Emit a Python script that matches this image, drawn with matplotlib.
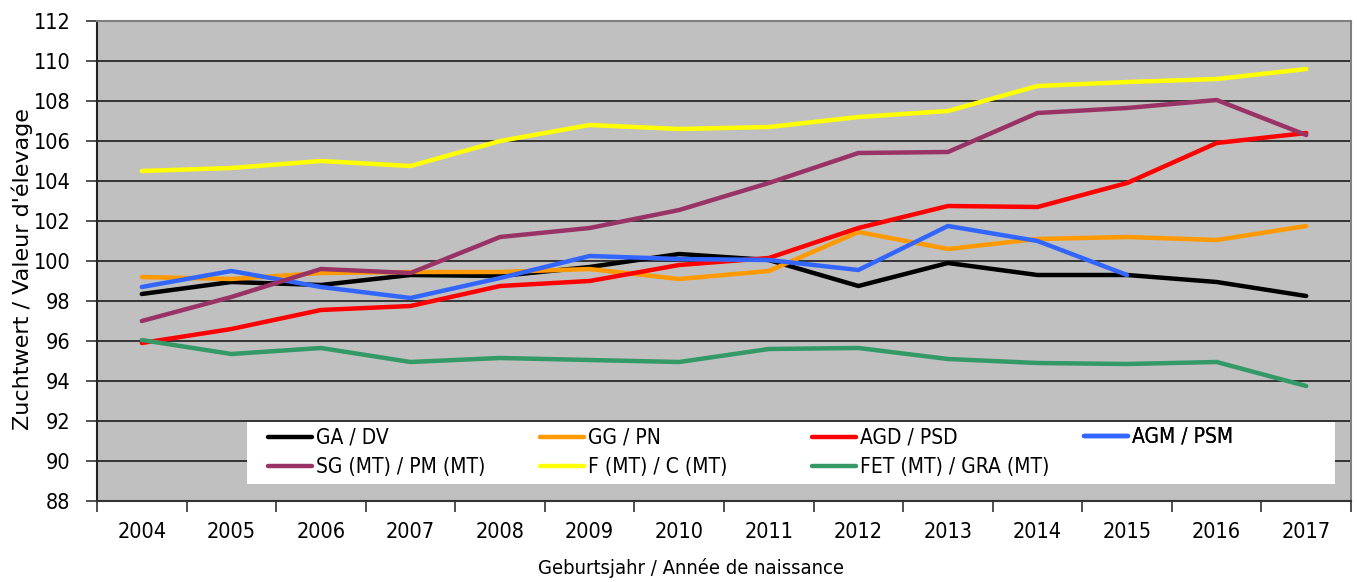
import matplotlib
matplotlib.use("Agg")
import matplotlib.pyplot as plt
from matplotlib.patches import Rectangle
import numpy as np

years = ["2004", "2005", "2006", "2007", "2008", "2009", "2010",
         "2011", "2012", "2013", "2014", "2015", "2016", "2017"]

ga_dv = [98.35, 98.95, 98.8, 99.3, 99.25, 99.7, 100.35, 100.05, 98.75, 99.9, 99.3, 99.3, 98.95, 98.25]
gg_pn = [99.2, 99.1, 99.4, 99.45, 99.45, 99.6, 99.1, 99.5, 101.45, 100.6, 101.1, 101.2, 101.05, 101.75]
agd_psd = [95.9, 96.6, 97.55, 97.75, 98.75, 99.0, 99.8, 100.15, 101.65, 102.75, 102.7, 103.9, 105.9, 106.4]
agm_psm = [98.7, 99.5, 98.7, 98.15, 99.15, 100.25, 100.1, 100.05, 99.55, 101.75, 101.0, 99.3, np.nan, np.nan]
sg_pm = [97.0, 98.2, 99.6, 99.4, 101.2, 101.65, 102.55, 103.9, 105.4, 105.45, 107.4, 107.65, 108.05, 106.3]
f_c = [104.5, 104.65, 105.0, 104.75, 106.0, 106.8, 106.6, 106.7, 107.2, 107.5, 108.75, 108.95, 109.1, 109.6]
fet_gra = [96.05, 95.35, 95.65, 94.95, 95.15, 95.05, 94.95, 95.6, 95.65, 95.1, 94.9, 94.85, 94.95, 93.75]

series = [
    ("GA / DV", ga_dv, "#000000"),
    ("GG / PN", gg_pn, "#FF9900"),
    ("AGD / PSD", agd_psd, "#FF0000"),
    ("AGM / PSM", agm_psm, "#3366FF"),
    ("SG (MT) / PM (MT)", sg_pm, "#993366"),
    ("F (MT) / C (MT)", f_c, "#FFFF00"),
    ("FET (MT) / GRA (MT)", fet_gra, "#339966"),
]

plt.rcParams['font.family'] = ['DejaVu Sans']
plt.rcParams['font.stretch'] = 'condensed'
FS = 15.5

fig = plt.figure(figsize=(13.57, 5.82), dpi=100)
ax = fig.add_axes([97/1357, 1 - 501/582, 1254/1357, 480/582])
ax.set_facecolor("#C0C0C0")

x = np.arange(len(years))
handles = []
for name, vals, col in series:
    h, = ax.plot(x, vals, color=col, lw=3.2, label=name, solid_capstyle='round', zorder=3)
    handles.append(h)

ax.set_xlim(-0.5, len(years) - 0.5)
ax.set_ylim(88, 112)
ax.set_yticks(np.arange(88, 113, 2))
ax.yaxis.grid(True, color="#333333", lw=1.4, zorder=1)
ax.set_axisbelow(True)

ax.set_xticks(x)
ax.set_xticklabels(years, fontsize=FS)
ax.set_xticks(np.arange(-0.5, len(years), 1), minor=True)
ax.tick_params(axis='x', which='major', length=0, pad=15)
ax.tick_params(axis='x', which='minor', length=8, width=1.2, color="#333333", direction='out')
ax.tick_params(axis='y', length=8, width=1.2, color="#333333", direction='out', pad=11, labelsize=FS)

for s in ['top', 'right']:
    ax.spines[s].set_color("#808080")
    ax.spines[s].set_linewidth(1.5)
ax.spines['left'].set_color("#222222")
ax.spines['left'].set_linewidth(1.5)
ax.spines['bottom'].set_color("#333333")
ax.spines['bottom'].set_linewidth(1.5)

ax.set_xlabel("Geburtsjahr / Année de naissance", fontsize=14.5)
ax.xaxis.set_label_coords((691 - 97) / 1254, (501 - 558) / 480)
ax.set_ylabel("Zuchtwert / Valeur d'élevage", fontsize=16, fontstretch='normal')
ax.yaxis.set_label_coords((33 - 97) / 1254, (501 - 269) / 480)

# legend background
ax.add_patch(Rectangle(((247 - 97) / 1254, (501 - 484) / 480), (1335 - 247) / 1254, 62 / 480,
                       transform=ax.transAxes, facecolor="white", edgecolor="none", zorder=4))

col_x = [268, 540, 812, 1084]
cols = [[0, 4], [1, 5], [2, 6], [3]]
for cx, idx in zip(col_x, cols):
    hs = [handles[i] for i in idx]
    yc = 452.5 if len(idx) == 2 else 437
    leg = ax.legend(hs, [h.get_label() for h in hs], loc='center left',
                    bbox_to_anchor=((cx - 97) / 1254, (501 - yc) / 480),
                    frameon=False, fontsize=15, handlelength=2.1, handletextpad=0.2,
                    borderpad=0, borderaxespad=0, labelspacing=0.45)
    leg.set_zorder(5)
    ax.add_artist(leg)

fig.savefig("out.png", dpi=100)
